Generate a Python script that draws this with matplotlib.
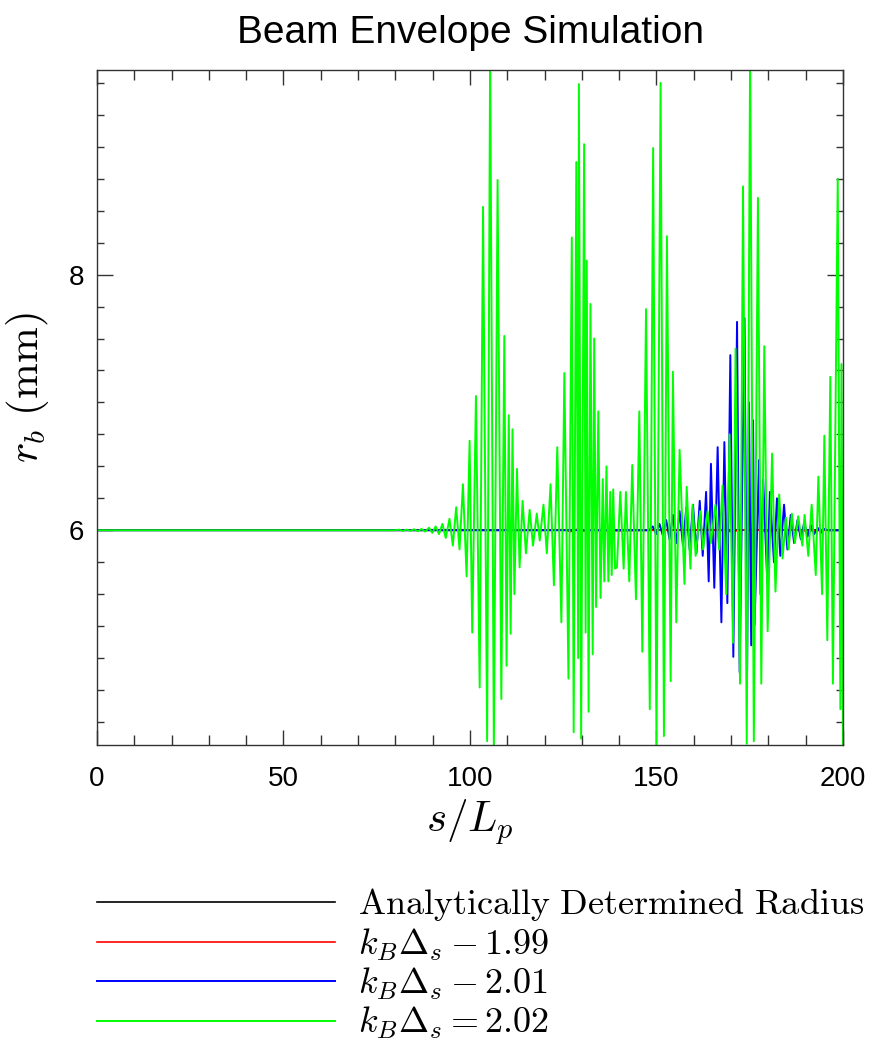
import matplotlib
matplotlib.use("Agg")
import matplotlib.pyplot as plt
import numpy as np
from matplotlib.ticker import MultipleLocator, FixedLocator

plt.rcParams['mathtext.fontset'] = 'cm'

# analytically determined radius
analytic_s = [0.0, 200.0]
analytic_r = [6.00, 6.00]

# k_B Delta_s = 1.99
red_s = [0.0, 120.0, 125.0, 127.0, 129.0, 131.0, 133.0, 135.0, 150.0, 165.0, 170.0,
         175.0, 180.0, 185.0, 190.0, 195.0, 200.0]
red_r = [6.00, 6.00, 6.005, 5.99, 6.01, 5.99, 6.01, 5.995, 6.00, 6.005, 5.99,
         6.01, 5.99, 6.005, 5.995, 6.00, 6.00]

# k_B Delta_s = 2.01 (extrema)
blue_s = [0.0, 80.0, 148.0, 149.0, 149.9, 150.8, 151.7, 152.6, 153.5, 154.4, 155.3,
          156.2, 157.1, 158.0, 158.9, 159.8, 160.7, 161.6, 162.4, 163.3, 164.0,
          164.6, 165.5, 166.4, 167.4, 168.2, 169.0, 169.8, 170.6, 171.6, 172.3,
          173.6, 174.3, 174.8, 175.4, 175.9, 176.3, 177.5, 177.9, 178.6, 179.7,
          180.4, 181.5, 182.3, 183.2, 184.2, 185.1, 186.0, 186.9, 187.8, 188.7,
          189.6, 190.5, 191.4, 192.3, 193.2, 194.1, 195.0, 196.0, 200.0]
blue_r = [6.00, 6.00, 6.00, 6.03, 5.97, 6.05, 5.96, 6.08, 5.93, 6.12, 5.90,
          6.15, 5.88, 6.18, 5.85, 6.20, 5.82, 6.23, 5.80, 6.30, 5.60,
          6.52, 5.55, 6.65, 5.28, 6.69, 5.43, 7.37, 5.01, 7.63, 4.89,
          7.66, 4.90, 7.00, 5.10, 6.86, 5.26, 6.55, 5.50, 6.40, 5.60,
          6.30, 5.75, 6.25, 5.80, 6.20, 5.85, 6.12, 5.90, 6.08, 5.93,
          6.06, 5.95, 6.04, 5.97, 6.02, 5.98, 6.01, 6.00, 6.00]

# k_B Delta_s = 2.02 (extrema)
green_s = [0.0, 80.0, 81.0, 82.0, 83.0, 84.0, 85.0, 86.0, 87.0, 88.0, 89.0,
           89.9, 90.8, 91.7, 92.6, 93.5, 94.5, 95.4, 96.3, 97.2, 98.1,
           99.1, 99.9, 100.6, 101.6, 102.6, 103.5, 104.6, 105.4, 106.4, 107.4,
           108.4, 109.2, 109.8, 110.4, 110.9, 111.4, 111.9, 112.6, 113.3, 114.1,
           115.0, 116.0, 116.9, 117.9, 118.7, 119.7, 120.6, 121.6, 122.5, 123.4,
           124.5, 125.3, 126.4, 127.3, 127.8, 128.5, 129.0, 129.2, 129.8, 130.6,
           131.0, 131.3, 131.8, 132.3, 132.9, 133.3, 133.8, 134.4, 135.0, 135.6,
           136.0, 136.6, 137.1, 137.6, 138.0, 138.4, 138.9, 139.4, 140.3, 141.2,
           141.8, 142.7, 143.5, 144.5, 145.4, 146.2, 147.2, 148.2, 149.1, 150.0,
           151.1, 152.0, 152.8, 153.8, 154.4, 155.3, 156.2, 157.5, 158.1, 159.1,
           159.7, 160.5, 161.7, 162.5, 163.7, 164.6, 165.8, 166.8, 167.7, 168.7,
           169.6, 170.5, 171.2, 172.4, 173.2, 174.2, 175.1, 176.1, 177.2, 178.1,
           178.9, 179.8, 181.0, 181.9, 182.9, 183.8, 184.7, 185.4, 186.3, 187.1,
           188.0, 189.1, 189.7, 190.7, 191.6, 192.7, 193.4, 194.4, 195.0, 195.8,
           196.6, 197.3, 198.6, 199.3, 199.6, 200.0]
green_r = [6.00, 6.00, 6.005, 5.995, 6.005, 5.995, 6.008, 5.992, 6.01, 5.99, 6.02,
           5.98, 6.03, 5.97, 6.05, 5.94, 6.09, 5.88, 6.18, 5.85, 6.36,
           5.64, 6.70, 5.20, 7.05, 4.77, 8.53, 4.35, 9.75, 4.28, 8.74,
           4.68, 7.52, 4.94, 6.90, 5.19, 6.79, 5.50, 6.48, 5.71, 6.23,
           5.82, 6.16, 5.88, 6.13, 5.92, 6.20, 5.82, 6.36, 5.57, 6.65,
           5.28, 7.23, 4.84, 8.29, 4.42, 8.88, 5.00, 9.49, 4.37, 9.02,
           5.20, 8.11, 4.58, 7.77, 5.03, 7.50, 5.40, 6.93, 5.47, 6.40,
           5.60, 6.50, 5.60, 6.30, 5.65, 6.32, 5.70, 5.71, 6.30, 5.70,
           6.30, 5.60, 6.51, 5.46, 6.93, 5.05, 7.73, 4.60, 8.99, 4.30,
           9.50, 4.39, 8.30, 4.82, 7.24, 5.28, 6.63, 5.58, 6.34, 5.70,
           6.20, 5.80, 6.15, 5.85, 6.15, 5.90, 6.20, 5.85, 6.35, 5.50,
           6.75, 5.12, 7.42, 4.80, 8.69, 4.33, 9.75, 4.35, 8.60, 4.80,
           7.44, 5.21, 6.60, 5.52, 6.28, 5.78, 6.10, 5.85, 6.13, 5.90,
           6.11, 5.88, 6.12, 5.80, 6.20, 5.65, 6.42, 5.50, 6.74, 5.14,
           7.20, 4.80, 8.75, 4.60, 7.30, 4.30]

labels = [r'$\mathrm{Analytically\ Determined\ Radius}$',
          r'$k_B\Delta_s - 1.99$',
          r'$k_B\Delta_s - 2.01$',
          r'$k_B\Delta_s = 2.02$']

fig = plt.figure(figsize=(8.77, 10.55), dpi=100)
ax = fig.add_axes([0.1106, 0.2938, 0.8506, 0.6398])

l1, = ax.plot(analytic_s, analytic_r, color='black', lw=1.2)
l2, = ax.plot(red_s, red_r, color='#ff0000', lw=1.2)
l3, = ax.plot(blue_s, blue_r, color='#0000ff', lw=1.4)
l4, = ax.plot(green_s, green_r, color='#00ff00', lw=1.4)

ax.set_xlim(0, 200)
ax.set_ylim(4.32, 9.6)

ax.xaxis.set_major_locator(MultipleLocator(50))
ax.xaxis.set_minor_locator(MultipleLocator(10))
ax.yaxis.set_major_locator(FixedLocator([6, 8]))
ax.yaxis.set_minor_locator(MultipleLocator(0.25))

ax.tick_params(axis='both', which='both', direction='in', top=True, right=True,
               color='#333333', width=1.0)
ax.tick_params(axis='x', which='major', length=11, pad=15, labelsize=20)
ax.tick_params(axis='x', which='minor', length=7)
ax.tick_params(axis='y', which='major', length=11.5, pad=9, labelsize=20)
ax.tick_params(axis='y', which='minor', length=5)
for lab in ax.get_xticklabels() + ax.get_yticklabels():
    lab.set_family('Liberation Sans')
for sp in ax.spines.values():
    sp.set_color('#333333')
    sp.set_linewidth(1.0)

ax.set_xlabel(r'$s/L_p$', fontsize=31, labelpad=4)
ax.set_ylabel(r'$r_b\ \mathrm{(mm)}$', fontsize=31, labelpad=2)
ax.yaxis.set_label_coords(-0.062, 0.53)

fig.suptitle('Beam Envelope Simulation', fontsize=28, family='Liberation Sans',
             x=0.536, y=0.986)

fig.legend([l1, l2, l3, l4], labels, loc='upper left',
           bbox_to_anchor=(0.1106, 0.160), frameon=False, fontsize=26,
           handlelength=6.6, handletextpad=0.64, labelspacing=0.09,
           borderpad=0, borderaxespad=0)

fig.savefig('out.png', dpi=100)
